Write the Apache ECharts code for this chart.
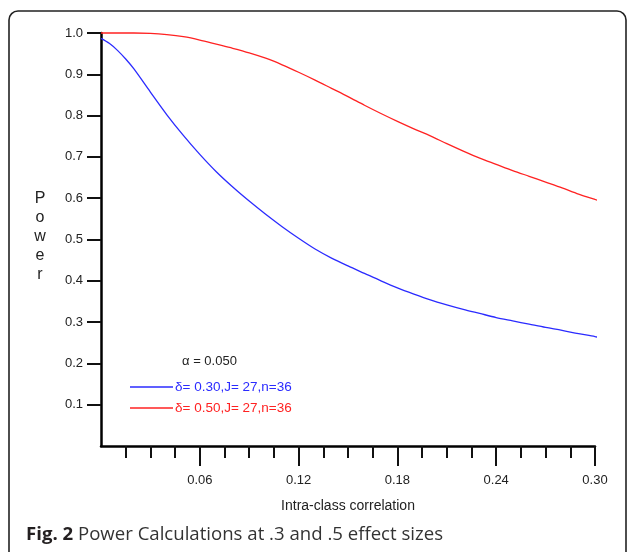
<!DOCTYPE html>
<html>
<head>
<meta charset="utf-8">
<script src="https://cdn.jsdelivr.net/npm/echarts@6/dist/echarts.min.js"></script>
<style>
  html, body { margin: 0; padding: 0; background: #fff; }
  #chart { width: 627px; height: 552px; }
</style>
</head>
<body>
<div id="chart"></div>
<script>
// intra-class correlation (x) and power (y)
const icc = [0, 0.005, 0.01, 0.015, 0.02, 0.03, 0.04, 0.05, 0.06, 0.07, 0.08, 0.09, 0.10,
  0.11, 0.12, 0.13, 0.14, 0.15, 0.16, 0.17, 0.18, 0.19, 0.20, 0.21, 0.22, 0.23, 0.24,
  0.25, 0.26, 0.27, 0.28, 0.29, 0.30, 0.304];
const powerD30 = [0.987, 0.975, 0.958, 0.937, 0.913, 0.857, 0.802, 0.752, 0.706, 0.664, 0.627, 0.593, 0.561,
  0.531, 0.503, 0.477, 0.455, 0.436, 0.418, 0.400, 0.383, 0.368, 0.354, 0.342, 0.331, 0.321, 0.311,
  0.303, 0.295, 0.287, 0.280, 0.272, 0.265, 0.261];
const powerD50 = [1.0, 1.0, 1.0, 1.0, 1.0, 0.999, 0.996, 0.991, 0.983, 0.973, 0.963, 0.952, 0.939,
  0.923, 0.905, 0.886, 0.866, 0.846, 0.825, 0.805, 0.786, 0.768, 0.751, 0.732, 0.714, 0.697, 0.682,
  0.667, 0.653, 0.639, 0.625, 0.610, 0.597, 0.592];

const seriesNames = ["\u03b4= 0.30,J= 27,n=36", "\u03b4= 0.50,J= 27,n=36"];
const seriesColors = ["#2b2bff", "#ff2222"];

const xMajorTicks = [0.06, 0.12, 0.18, 0.24, 0.30];
const xMinorTicks = [0.015, 0.03, 0.045, 0.075, 0.09, 0.105, 0.135, 0.15, 0.165,
  0.195, 0.21, 0.225, 0.255, 0.27, 0.285];
const yTicks = [0.1, 0.2, 0.3, 0.4, 0.5, 0.6, 0.7, 0.8, 0.9, 1.0];

const chart = echarts.init(document.getElementById("chart"));

const labelStyle = { color: "#222", fontSize: 13, fontFamily: "Liberation Sans, Arial, sans-serif" };

chart.setOption({
  animation: false,
  grid: { left: 101, right: 32, top: 33, bottom: 106, outerBoundsMode: "none" },
  xAxis: [
    {
      type: "value",
      min: 0,
      max: 0.3,
      name: "Intra-class correlation",
      nameLocation: "middle",
      nameGap: 53,
      nameTextStyle: { color: "#222", fontSize: 14, fontFamily: "Liberation Sans, Arial, sans-serif" },
      axisLine: { lineStyle: { color: "#000", width: 2.5 } },
      axisTick: { customValues: xMajorTicks, length: 20, lineStyle: { color: "#111", width: 2 } },
      axisLabel: {
        customValues: xMajorTicks,
        margin: 28,
        formatter: (v) => v.toFixed(2),
        ...labelStyle,
      },
      splitLine: { show: false },
    },
    {
      type: "value",
      min: 0,
      max: 0.3,
      position: "bottom",
      axisLine: { show: false },
      axisTick: { customValues: xMinorTicks, length: 12, lineStyle: { color: "#111", width: 2 } },
      axisLabel: { show: false },
      splitLine: { show: false },
    },
  ],
  yAxis: {
    type: "value",
    min: 0,
    max: 1.0,
    axisLine: { show: true, lineStyle: { color: "#000", width: 2.5 } },
    axisTick: { show: true, customValues: yTicks, length: 14, lineStyle: { color: "#111", width: 2 } },
    axisLabel: {
      customValues: yTicks,
      margin: 18,
      formatter: (v) => v.toFixed(1),
      ...labelStyle,
    },
    splitLine: { show: false },
  },
  legend: {
    orient: "vertical",
    left: 130,
    top: 380,
    padding: 0,
    icon: "rect",
    itemWidth: 43,
    itemHeight: 1.6,
    itemGap: 7,
    selectedMode: false,
    data: seriesNames.map((name, i) => ({
      name,
      itemStyle: { color: seriesColors[i] },
      textStyle: { color: seriesColors[i] },
    })),
    textStyle: { fontSize: 13.5, lineHeight: 14, fontFamily: "Liberation Sans, Arial, sans-serif", padding: [0, 0, 0, -3] },
  },
  series: [powerD30, powerD50].map((vals, i) => ({
    name: seriesNames[i],
    type: "line",
    data: icc.map((x, j) => [x, vals[j]]),
    showSymbol: false,
    smooth: 0.3,
    clip: false,
    color: seriesColors[i],
    lineStyle: { width: 1.3, color: seriesColors[i] },
  })),
  graphic: [
    {
      type: "rect",
      shape: { x: 9, y: 11, width: 617, height: 620, r: 9 },
      style: { fill: "none", stroke: "#222", lineWidth: 1.6 },
      z: -1,
    },
    {
      type: "text",
      x: 40,
      y: 237,
      style: {
        text: "P\no\nw\ne\nr",
        fill: "#222",
        font: "16px Liberation Sans, Arial, sans-serif",
        lineHeight: 19,
        align: "center",
        verticalAlign: "middle",
      },
    },
    {
      type: "text",
      x: 182,
      y: 361,
      style: {
        text: "\u03b1 = 0.050",
        fill: "#222",
        font: "13px Liberation Sans, Arial, sans-serif",
        verticalAlign: "middle",
      },
    },
    {
      type: "text",
      x: 26,
      y: 535,
      style: {
        text: "{b|Fig. 2} Power Calculations at .3 and .5 effect sizes",
        fill: "#333",
        font: "18.6px Open Sans, Noto Sans, sans-serif",
        verticalAlign: "middle",
        rich: {
          b: { fontWeight: "bold", fontSize: 18.6, fontFamily: "Open Sans, Noto Sans, sans-serif", fill: "#231f20" },
        },
      },
    },
  ],
});
</script>
</body>
</html>
